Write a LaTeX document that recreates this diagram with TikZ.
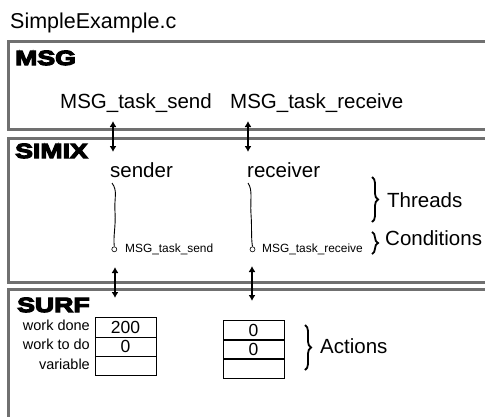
\documentclass[tikz,border=0pt]{standalone}
\usepackage{fontspec}
\setmainfont{Liberation Sans}
\newfontfamily\heavyfont[FakeBold=6,FakeStretch=1.3]{Liberation Sans Bold}
\usetikzlibrary{arrows.meta,decorations.pathreplacing}

\definecolor{layergray}{RGB}{112,112,112}

\tikzset{
  layer/.style={draw=layergray, line width=3pt},
  layername/.style={anchor=base west, inner sep=0pt, font=\heavyfont\fontsize{20.5}{24}\selectfont},
  big/.style={anchor=base west, inner sep=0pt, font=\fontsize{20.5}{24}\selectfont},
  small/.style={anchor=base west, inner sep=0pt, font=\fontsize{11.9}{14}\selectfont},
  fieldname/.style={anchor=base east, inner sep=0pt, font=\fontsize{14.5}{17}\selectfont},
  cell/.style={draw, line width=1pt, minimum width=61pt, minimum height=19.3pt,
    inner sep=0pt, font=\fontsize{17.5}{20}\selectfont},
  updown/.style={{Latex[length=6pt,width=7pt]}-{Latex[length=6pt,width=7pt]}, line width=1.8pt},
  thread/.style={line width=0.9pt},
  cond/.style={circle, draw, line width=0.6pt, inner sep=0pt, minimum size=5pt},
  bracket/.style={decorate, decoration={brace, amplitude=6pt}, line width=1.8pt}
}

\begin{document}
\begin{tikzpicture}[x=1pt, y=-1pt]

\useasboundingbox (0,0) rectangle (485,416);
\clip (0,0) rectangle (485,416);

\node[big, font=\fontsize{21.5}{25}\selectfont] (title) at (10,28.5) {SimpleExample.c};

% layers
\draw[layer] (8,41) rectangle (495,129);
\draw[layer] (8,138) rectangle (495,282);
\draw[layer] (8,289) rectangle (495,430);

\node[layername] (msg) at (15,65) {MSG};
\node[layername] (simix) at (15,158) {SIMIX};
\node[layername] (surf) at (17,312) {SURF};

% MSG calls
\node[big] (callsend) at (60,108) {MSG\_task\_send};
\node[big] (callrecv) at (230,108) {MSG\_task\_receive};

% SIMIX threads
\node[big] (sender) at (110,177) {sender};
\node[big] (receiver) at (247,177) {receiver};

\node[cond] (condsend) at (114.3,249.3) {};
\node[cond] (condrecv) at (252.5,249.3) {};

\coordinate (tsend) at (112,183);
\coordinate (trecv) at (248,183);

\draw[thread] (tsend) .. controls (118,191) and (114,198) .. (115,212)
  .. controls (116,226) and (113,236) .. (condsend.north);
\draw[thread] (trecv) .. controls (253,190) and (250,200) .. (251,214)
  .. controls (252,228) and (251,238) .. (condrecv.north);

\node[small] (condsendlbl) at (125,252) {MSG\_task\_send};
\node[small] (condrecvlbl) at (262,252) {MSG\_task\_receive};

\draw[bracket] (372,177) -- (372,222);
\draw[bracket] (372,232) -- (372,254);
\node[big] (threads) at (387,207) {Threads};
\node[big] (conditions) at (385,245) {Conditions};

% SURF actions
\foreach \i/\val in {1/200, 2/0, 3/{}}
    \node[cell] (sendact\i) at (125.5, {327.6+19.3*(\i-1)}) {\val};

\foreach \i/\val in {1/0, 2/0, 3/{}}
    \node[cell] (recvact\i) at (253.5, {330.6+19*(\i-1)}) {\val};

\foreach \i/\field in {1/work done, 2/work to do, 3/variable}
    \node[fieldname] (field\i) at (90, {330+19.5*(\i-1)}) {\field};

\draw[bracket] (305,325) -- (305,370);
\node[big] (actions) at (320,353) {Actions};

% calls between layers
\foreach \name/\x/\top/\bot in {msgsend/113/121/152, msgrecv/248/121/152,
                                 surfsend/115/267/298, surfrecv/252/266/301} {
    \coordinate (\name a) at (\x,\top);
    \coordinate (\name b) at (\x,\bot);
    \draw[updown] (\name a) -- (\name b);
}

\end{tikzpicture}
\end{document}
